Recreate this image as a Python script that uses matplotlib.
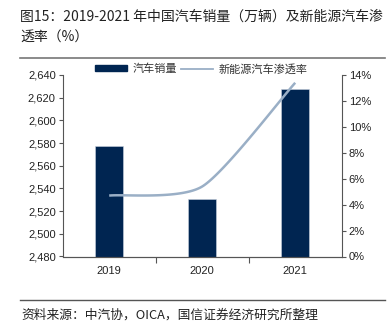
import numpy as np
import matplotlib
matplotlib.use("Agg")
import matplotlib.pyplot as plt
from matplotlib.lines import Line2D
from matplotlib.patches import Patch
from matplotlib.ticker import FuncFormatter

plt.rcParams['font.family'] = ['Noto Sans CJK SC', 'DejaVu Sans']

years = ["2019", "2020", "2021"]
sales = [2577, 2531, 2627.5]          # 万辆
nev_rate = [4.7, 5.4, 13.4]           # %

BAR = "#002551"
LINE = "#9AAFC6"
TICK_FONT = ['Liberation Sans', 'DejaVu Sans']

fig = plt.figure(figsize=(3.91, 3.30), dpi=100)
W, H = 391, 330
ax = fig.add_axes([62.7 / W, (H - 256.5) / H, (341.7 - 62.7) / W, (256.5 - 75) / H])
ax2 = ax.twinx()

x = np.arange(len(years))
ax.bar(x, sales, width=0.3, color=BAR, edgecolor="#c9d3df", linewidth=0.4, zorder=2)
ax.set_xlim(-0.5, 2.5)
ax.set_ylim(2480, 2640)
ax.set_yticks(np.arange(2480, 2641, 20))
ax.yaxis.set_major_formatter(FuncFormatter(lambda v, p: f"{int(v):,}"))
ax.set_xticks(x)
ax.set_xticklabels(years)
ax.set_xticks([0.5, 1.5], minor=True)
ax.tick_params(axis='x', which='major', length=0, pad=7)
ax.tick_params(axis='x', which='minor', length=4, width=0.8, direction='out', color="#555555")
ax.tick_params(axis='y', length=3, width=0.8, direction='out', pad=2, color="#555555")


# Smoothed penetration curve: cubic Bezier segments through the yearly points,
# with interior tangents softened so the curve stays flat before the jump.
def smooth_curve(px, py, soft=0.7, n=60):
    P = np.column_stack([px, py]).astype(float)
    Q = np.vstack([P[0], P, P[-1]])
    last = len(P) - 1
    xs, ys = [], []
    for i in range(last):
        p0, p1, p2, p3 = Q[i], Q[i + 1], Q[i + 2], Q[i + 3]
        k1 = soft if 0 < i < last else 1.0
        k2 = soft if 0 < i + 1 < last else 1.0
        c1 = p1 + k1 * (p2 - p0) / 6
        c2 = p2 - k2 * (p3 - p1) / 6
        t = np.linspace(0, 1, n)[:, None]
        seg = ((1 - t) ** 3) * p1 + 3 * ((1 - t) ** 2) * t * c1 + 3 * (1 - t) * t ** 2 * c2 + t ** 3 * p2
        xs.append(seg[:, 0])
        ys.append(seg[:, 1])
    return np.concatenate(xs), np.concatenate(ys)


cx, cy = smooth_curve(x, nev_rate)
ax2.plot(cx, cy, color=LINE, lw=1.8, solid_capstyle='butt', zorder=3)
ax2.set_ylim(0, 14)
ax2.set_yticks(np.arange(0, 15, 2))
ax2.yaxis.set_major_formatter(FuncFormatter(lambda v, p: f"{int(v)}%"))
ax2.tick_params(axis='y', length=3, width=0.8, direction='out', pad=2, color="#555555")

for a in (ax, ax2):
    a.spines['top'].set_visible(False)
    for s in ('left', 'right', 'bottom'):
        a.spines[s].set_color("#555555")
        a.spines[s].set_linewidth(0.8)
    for lbl in a.get_xticklabels() + a.get_yticklabels():
        lbl.set_family(TICK_FONT)
        lbl.set_fontsize(8)
        lbl.set_color("#222222")
ax.spines['right'].set_visible(False)
ax2.spines['left'].set_visible(False)

handles = [Patch(facecolor=BAR, edgecolor=BAR), Line2D([0], [0], color=LINE, lw=1.3)]
leg = fig.legend(handles, ["汽车销量", "新能源汽车渗透率"], loc='center left',
                 bbox_to_anchor=(95 / W, (H - 69) / H), ncol=2, frameon=False,
                 fontsize=8, handlelength=2.9, handleheight=0.45, columnspacing=0.3,
                 handletextpad=0.5, borderaxespad=0, borderpad=0)
for t in leg.get_texts():
    t.set_color("#333333")

# Header and footer
fig.text(20 / W, (H - 17) / H, "图15：2019-2021 年中国汽车销量（万辆）及新能源汽车渗",
         fontsize=10, va='center', ha='left', color="#222222")
fig.text(20 / W, (H - 38) / H, "透率（%）", fontsize=10, va='center', ha='left', color="#222222")
fig.add_artist(Line2D([20 / W, 385 / W], [(H - 57.5) / H] * 2, color="#777777", lw=1.2))
fig.add_artist(Line2D([20 / W, 385 / W], [(H - 299.5) / H] * 2, color="#555555", lw=1.0))
fig.text(21 / W, (H - 315) / H, "资料来源：中汽协，OICA，国信证券经济研究所整理",
         fontsize=9.2, va='center', ha='left', color="#222222")

fig.savefig("out.png", dpi=100)
